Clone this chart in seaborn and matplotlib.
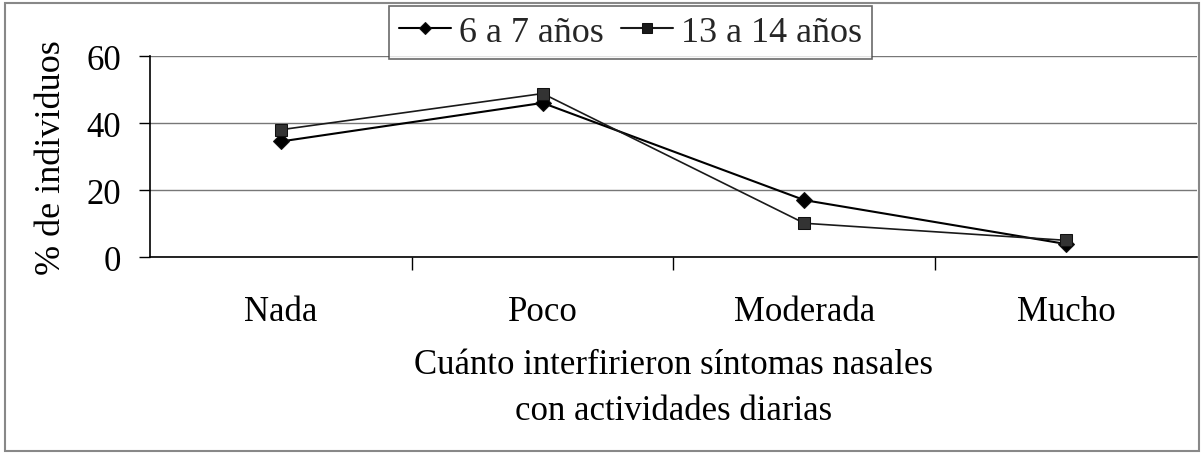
import matplotlib
matplotlib.use("Agg")
import matplotlib.pyplot as plt
import numpy as np
import pandas as pd
import seaborn as sns
from matplotlib.patches import Rectangle

categories = ["Nada", "Poco", "Moderada", "Mucho"]
grupo_6_7 = [34.5, 46.0, 17.0, 3.9]
grupo_13_14 = [38.0, 48.8, 10.1, 5.0]
series_names = ["6 a 7 años", "13 a 14 años"]

df = pd.DataFrame({
    "pos": list(range(len(categories))) * 2,
    "valor": grupo_6_7 + grupo_13_14,
    "grupo": [series_names[0]] * len(categories) + [series_names[1]] * len(categories),
})

sns.set_theme(style="white")
plt.rcParams["font.family"] = ["Liberation Serif", "DejaVu Serif"]
FS = 25

fig = plt.figure(figsize=(12.03, 4.56), dpi=100)
ax = fig.add_axes([0.1247, 0.434, 0.8703, 0.441])

sns.lineplot(
    data=df, x="pos", y="valor", hue="grupo", style="grupo",
    markers={series_names[0]: "D", series_names[1]: "s"},
    dashes=False,
    palette={series_names[0]: "black", series_names[1]: "#1a1a1a"},
    markersize=9, linewidth=1.5, markeredgecolor="#111111",
    ax=ax,
)
lines = ax.get_lines()
lines[0].set_markersize(8.5)
lines[1].set_markersize(9)
lines[1].set_linewidth(1.2)
lines[1].set_markerfacecolor("#333333")

ax.set_xlim(-0.5, len(categories) - 0.5)
ax.set_ylim(0, 60)
ax.set_yticks([0, 20, 40, 60])
ax.set_xticks(range(len(categories)))
ax.set_xticklabels(categories)
ax.set_xticks(np.arange(0.5, len(categories) - 0.5, 1), minor=True)
ax.tick_params(axis="x", which="major", length=0, labelsize=FS, pad=27, colors="black")
ax.tick_params(axis="x", which="minor", length=9, width=1, color="black", direction="out", bottom=True)
ax.tick_params(axis="y", length=8, width=1, color="black", direction="out", left=True, labelsize=FS, pad=13)
for lbl in ax.get_xticklabels() + ax.get_yticklabels():
    lbl.set_color("black")

ax.grid(axis="y", color="#777777", linewidth=1)
ax.set_axisbelow(True)
for side in ["top", "right"]:
    ax.spines[side].set_visible(False)
for side in ["left", "bottom"]:
    ax.spines[side].set_color("black")
    ax.spines[side].set_linewidth(1.2)

ax.set_ylabel("% de individuos", fontsize=FS + 1, color="black", labelpad=13)
ax.set_xlabel("Cuánto interfirieron síntomas nasales\ncon actividades diarias",
              fontsize=FS, color="black", labelpad=15, linespacing=1.5)

leg = ax.legend(loc="lower center", bbox_to_anchor=(0.459, 0.985), ncol=2,
                fontsize=26, frameon=True, fancybox=False, borderpad=0.28,
                handlelength=1.45, columnspacing=0.47, handletextpad=0.22,
                borderaxespad=0)
leg.get_frame().set_edgecolor("#444444")
leg.get_frame().set_linewidth(1.2)
leg.get_frame().set_facecolor("white")
for h in leg.legend_handles:
    h.set_markersize(6.5)
    h.set_linewidth(1.5)

fig.patches.append(Rectangle((0.004, 0.008), 0.993, 0.984, transform=fig.transFigure,
                             fill=False, edgecolor="#888888", linewidth=1.5))

fig.savefig("out.png", dpi=100)
